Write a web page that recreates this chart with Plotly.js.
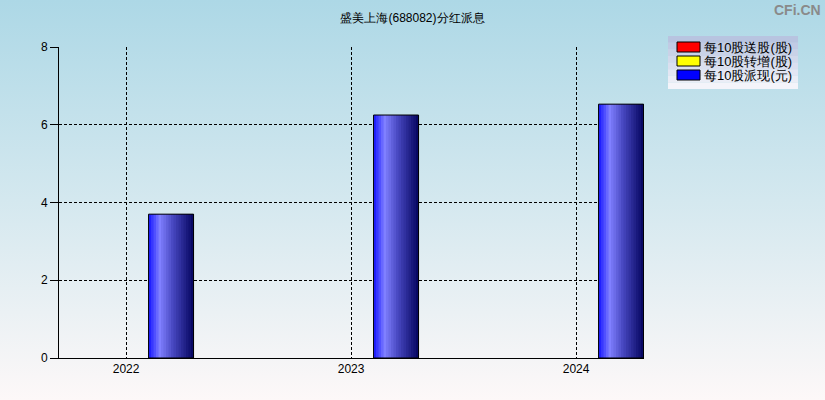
<!DOCTYPE html>
<html>
<head>
<meta charset="utf-8">
<script src="https://cdn.plot.ly/plotly-3.0.1.min.js"></script>
<style>
  body { margin: 0; }
  #chart { width: 825px; height: 400px; background: linear-gradient(to bottom, #add8e6 0%, #d4e8ef 50%, #fdf8f8 100%); }
</style>
</head>
<body>
<div id="chart"></div>
<script>
var years = [2022, 2023, 2024];
var songGu = [0, 0, 0];          // 每10股送股(股)
var zhuanZeng = [0, 0, 0];       // 每10股转增(股)
var paiXian = [3.7, 6.25, 6.53]; // 每10股派现(元)
var seriesNames = ['每10股送股(股)', '每10股转增(股)', '每10股派现(元)'];
var seriesColors = ['#ff0000', '#ffff00', '#0000ff'];

var barOffset = 0.1, barWidth = 0.2;

// blue gradient stops across the bar width
var stops = [[0, [20, 20, 255]], [0.25, [128, 128, 255]], [0.55, [70, 70, 190]], [1, [5, 5, 95]]];
function gradColor(t) {
  for (var i = 1; i < stops.length; i++) {
    if (t <= stops[i][0]) {
      var a = stops[i - 1], b = stops[i];
      var f = (t - a[0]) / (b[0] - a[0]);
      var c = a[1].map(function (v, k) { return Math.round(v + (b[1][k] - v) * f); });
      return 'rgb(' + c.join(',') + ')';
    }
  }
  return 'rgb(5,5,95)';
}

var data = [];
// zero-valued series (送股, 转增)
data.push({type: 'bar', x: years, y: songGu, name: seriesNames[0], offset: barOffset, width: barWidth,
  marker: {color: seriesColors[0], line: {width: 0}}, hoverinfo: 'skip'});
data.push({type: 'bar', x: years, y: zhuanZeng, name: seriesNames[1], offset: barOffset, width: barWidth,
  marker: {color: seriesColors[1], line: {width: 0}}, hoverinfo: 'skip'});

// 派现 bars as overlapping slices to fake the horizontal gradient
var n = 18;
for (var i = 0; i < n; i++) {
  data.push({
    type: 'bar', x: years, y: paiXian, name: seriesNames[2],
    offset: barOffset + barWidth * i / n, width: barWidth * (n - i) / n,
    marker: {color: gradColor((i + 0.5) / n), line: {width: 0}},
    hoverinfo: i === 0 ? 'y' : 'skip'
  });
}
// outline
data.push({
  type: 'bar', x: years, y: paiXian, offset: barOffset, width: barWidth,
  marker: {color: 'rgba(0,0,0,0)', line: {color: 'black', width: 1}},
  hoverinfo: 'skip'
});

// hand-drawn legend (pixel positions converted to paper coords)
var L = 59, T = 47, W = 585, H = 311;
function px(x) { return (x - L) / W; }
function py(y) { return (T + H - y) / H; }
var shapes = [], annotations = [];
var bands = 8, lx0 = 668, lx1 = 798, ly0 = 36, ly1 = 89;
for (var b = 0; b < bands; b++) {
  var t = b / (bands - 1);
  var r = Math.round(184 + (244 - 184) * t), g = Math.round(196 + (244 - 196) * t), bl = Math.round(224 + (250 - 224) * t);
  shapes.push({type: 'rect', xref: 'paper', yref: 'paper', layer: 'above',
    x0: px(lx0), x1: px(lx1), y0: py(ly0 + (ly1 - ly0) * b / bands), y1: py(ly0 + (ly1 - ly0) * (b + 1) / bands),
    fillcolor: 'rgb(' + r + ',' + g + ',' + bl + ')', line: {width: 0}});
}
seriesNames.forEach(function (nm, k) {
  var cy = 47 + k * 14;
  shapes.push({type: 'rect', xref: 'paper', yref: 'paper', layer: 'above',
    x0: px(677), x1: px(700), y0: py(cy + 5), y1: py(cy - 5),
    fillcolor: seriesColors[k], line: {color: 'black', width: 1}});
  annotations.push({text: nm, xref: 'paper', yref: 'paper', x: px(702), y: py(cy),
    xanchor: 'left', yanchor: 'middle', showarrow: false,
    font: {size: 13, color: '#000'}});
});
annotations.push({
  text: '<b>CFi.CN</b>', xref: 'paper', yref: 'paper', x: px(823), y: py(10),
  xanchor: 'right', yanchor: 'middle', showarrow: false,
  font: {size: 14, color: '#8a8a8a'}
});

var font = 'Liberation Sans, Arial, sans-serif';
var layout = {
  width: 825, height: 400,
  paper_bgcolor: 'rgba(0,0,0,0)', plot_bgcolor: 'rgba(0,0,0,0)',
  margin: {l: L, r: 825 - L - W, t: T, b: 400 - T - H},
  barmode: 'overlay',
  showlegend: false,
  font: {family: font, size: 12, color: '#000'},
  title: {text: '盛美上海(688082)分红派息', x: 0.5, xref: 'container', xanchor: 'center',
    y: 1 - 18 / 400, yref: 'container', yanchor: 'middle',
    font: {size: 12, family: font}},
  xaxis: {
    range: [2021.702, 2024.302], tickvals: years, ticktext: years.map(String),
    showgrid: true, gridcolor: '#000', griddash: '3px,2px', gridwidth: 1,
    showline: true, linecolor: '#000', linewidth: 1,
    ticks: '', zeroline: false, tickfont: {size: 12}
  },
  yaxis: {
    range: [0, 8], tickvals: [0, 2, 4, 6, 8],
    showgrid: true, gridcolor: '#000', griddash: '3px,2px', gridwidth: 1,
    showline: true, linecolor: '#000', linewidth: 1,
    ticks: 'outside', ticklen: 8, tickcolor: '#000', zeroline: false, tickfont: {size: 12}
  },
  shapes: shapes,
  annotations: annotations
};

Plotly.newPlot('chart', data, layout, {displayModeBar: false});
</script>
</body>
</html>
